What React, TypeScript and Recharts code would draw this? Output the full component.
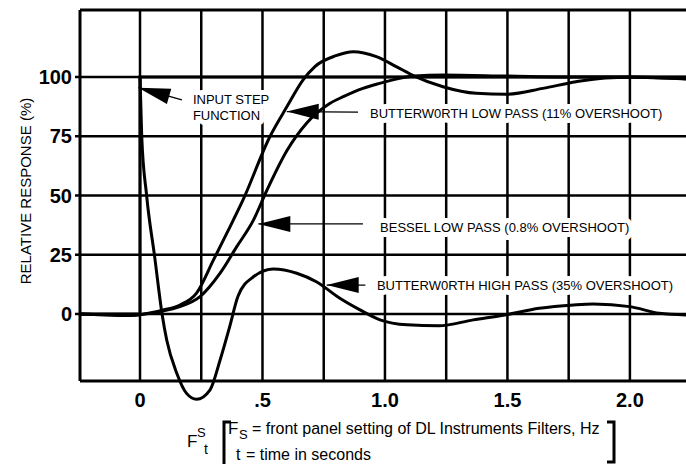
import React from "react"
import { LineChart, Line, XAxis, YAxis, ReferenceLine, ReferenceDot } from "recharts"

// axis layout values (t in F_S * t units, v in %)
const xTicks = [0, 0.5, 1, 1.5, 2]
const xTickLabels = ["0", ".5", "1.0", "1.5", "2.0"]
const yTicks = [0, 25, 50, 75, 100]
const gridT = [0, 0.25, 0.5, 0.75, 1, 1.25, 1.5, 1.75, 2]
const frameT = [-0.245, 2.229]
const frameV = [-28.3, 128.27]

// curves: [t, relative response %]
const inputStep = [[-0.245, 0], [0, 0], [0, 100], [2.229, 100]]

const butterworthLowPass = [
  [-0.245, 0], [-0.15, -0.3], [-0.05, -0.6], [0, -0.3], [0.05, 0.6], [0.095, 1.7], [0.163, 3.8],
  [0.23, 8.7], [0.3, 22.8], [0.354, 34], [0.42, 48], [0.53, 74.8], [0.6, 87.5], [0.665, 98.7],
  [0.714, 104.4], [0.8, 109], [0.87, 110.7], [0.965, 108.6], [1.046, 104.4], [1.12, 100.4],
  [1.237, 95.9], [1.373, 93.1], [1.495, 92.7], [1.645, 95.2], [1.78, 98], [1.9, 99.6],
  [2.0, 99.9], [2.229, 99.2],
]

const besselLowPass = [
  [-0.245, 0], [-0.15, -0.3], [-0.05, -0.6], [0, -0.3], [0.08, 1], [0.163, 3.1], [0.245, 7.3],
  [0.327, 17.2], [0.395, 28.4], [0.463, 39.6], [0.517, 52], [0.6, 69], [0.68, 80.5], [0.776, 88.9],
  [0.83, 91.7], [0.91, 95.2], [0.978, 97.3], [1.05, 99.2], [1.12, 100.4], [1.237, 100.8],
  [1.5, 100.4], [1.78, 100], [2.0, 100], [2.229, 99.3],
]

const butterworthHighPass = [
  [0, 100], [0.007, 75], [0.027, 50], [0.06, 24], [0.09, 0], [0.109, -11], [0.15, -25],
  [0.19, -33.5], [0.231, -36], [0.286, -32], [0.327, -19.4], [0.367, -5], [0.4, 7.5],
  [0.463, 15.7], [0.544, 19], [0.64, 17.2], [0.72, 13.6], [0.816, 6.6], [0.898, 1.7],
  [0.98, -2.5], [1.09, -4.6], [1.22, -5], [1.36, -2.5], [1.49, -0.4], [1.63, 2.4], [1.77, 3.8],
  [1.85, 4.2], [2.0, 3.1], [2.12, 0.3], [2.229, -0.4],
]

// arrow callouts: tip, tail end, text anchor (all in data units)
const callouts = [
  { tip: [-0.007, 95.5], tail: [0.171, 90.3], text: [0.216, 90.3], lines: ["INPUT STEP", "FUNCTION"] },
  { tip: [0.599, 85.4], tail: [0.89, 85.2], text: [0.939, 84.8], lines: ["BUTTERW0RTH LOW PASS (11% OVERSHOOT)"] },
  { tip: [0.483, 38.0], tail: [0.91, 38.0], text: [0.98, 36.3], lines: ["BESSEL LOW PASS (0.8% OVERSHOOT)"] },
  { tip: [0.762, 12.2], tail: [0.92, 12.2], text: [0.967, 12.2], lines: ["BUTTERW0RTH HIGH PASS (35% OVERSHOOT)"] },
]

const toPoints = (rows: number[][]) => rows.map(([t, v]) => ({ t, v }))

const FONT = "'Liberation Sans', Arial, Helvetica, sans-serif"

const XTick = ({ x, y, payload }: any) => (
  <text x={x} y={y - 7} textAnchor="middle" fontSize={20} fontWeight="bold" fontFamily={FONT} fill="#000">
    {xTickLabels[xTicks.indexOf(payload.value)]}
  </text>
)

const gridShape = (w: number) => (p: any) => (
  <line x1={p.x1} y1={p.y1} x2={p.x2} y2={p.y2} stroke="#000" strokeWidth={w} />
)

const arrowShape = (p: any) => {
  const { x1, y1, x2, y2 } = p
  const dx = x2 - x1
  const dy = y2 - y1
  const len = Math.hypot(dx, dy) || 1
  const ux = dx / len
  const uy = dy / len
  const L = 32
  const W = 8
  const bx = x1 + ux * L
  const by = y1 + uy * L
  const pts = `${x1},${y1} ${bx - uy * W},${by + ux * W} ${bx + uy * W},${by - ux * W}`
  return (
    <g>
      <line x1={x1} y1={y1} x2={x2} y2={y2} stroke="#000" strokeWidth={1.3} />
      <polygon points={pts} fill="#000" />
    </g>
  )
}

const textShape = (lines: string[]) => (p: any) => (
  <g>
    {lines.map((s, i) => (
      <text
        key={i}
        x={p.cx}
        y={p.cy + i * 16}
        dominantBaseline="central"
        fontSize={13}
        fontFamily={FONT}
        fill="#000"
        stroke="#fff"
        strokeWidth={10}
        strokeLinejoin="round"
        paintOrder="stroke"
      >
        {s}
      </text>
    ))}
  </g>
)

export default function App() {
  return (
    <div style={{ position: "absolute", left: 0, top: 0, width: 686, height: 464, background: "#fff" }}>
      <LineChart width={686} height={464} margin={{ top: 10, right: 0, bottom: 20.5, left: 0 }}>
        <XAxis
          dataKey="t"
          type="number"
          domain={[frameT[0], frameT[1]]}
          ticks={xTicks}
          tickLine={false}
          axisLine={false}
          tickSize={0}
          tickMargin={0}
          height={30}
          tick={<XTick />}
        />
        <YAxis
          type="number"
          domain={[-42, frameV[1]]}
          ticks={yTicks}
          width={80}
          axisLine={false}
          tickLine={{ stroke: "#000", strokeWidth: 2.5 }}
          tickSize={5}
          tickMargin={3}
          tick={{ fontSize: 20, fontWeight: "bold", fill: "#000", fontFamily: FONT }}
        />

        {yTicks.map((v) => (
          <ReferenceLine
            key={`h${v}`}
            segment={[{ x: frameT[0], y: v }, { x: frameT[1], y: v }]}
            shape={gridShape(2.5)}
          />
        ))}
        {gridT.map((t) => (
          <ReferenceLine
            key={`v${t}`}
            segment={[{ x: t, y: frameV[0] }, { x: t, y: frameV[1] }]}
            shape={gridShape(2.5)}
          />
        ))}
        {frameV.map((v) => (
          <ReferenceLine
            key={`fh${v}`}
            segment={[{ x: frameT[0], y: v }, { x: frameT[1], y: v }]}
            shape={gridShape(3)}
          />
        ))}
        <ReferenceLine
          segment={[{ x: frameT[0], y: frameV[0] }, { x: frameT[0], y: frameV[1] }]}
          shape={gridShape(3)}
        />

        <Line data={toPoints(inputStep)} dataKey="v" type="linear" stroke="#000" strokeWidth={3} dot={false} isAnimationActive={false} />
        <Line data={toPoints(butterworthLowPass)} dataKey="v" type="monotone" stroke="#000" strokeWidth={3} dot={false} isAnimationActive={false} />
        <Line data={toPoints(besselLowPass)} dataKey="v" type="monotone" stroke="#000" strokeWidth={3} dot={false} isAnimationActive={false} />
        <Line data={toPoints(butterworthHighPass)} dataKey="v" type="monotone" stroke="#000" strokeWidth={3} dot={false} isAnimationActive={false} />

        {callouts.map((c, i) => (
          <ReferenceLine
            key={`a${i}`}
            segment={[{ x: c.tip[0], y: c.tip[1] }, { x: c.tail[0], y: c.tail[1] }]}
            shape={arrowShape}
          />
        ))}
        {callouts.map((c, i) => (
          <ReferenceDot key={`t${i}`} x={c.text[0]} y={c.text[1]} r={0} shape={textShape(c.lines)} />
        ))}
      </LineChart>

      <svg width={686} height={464} style={{ position: "absolute", left: 0, top: 0, pointerEvents: "none" }} fontFamily={FONT}>
        <text transform="translate(25,191) rotate(-90)" textAnchor="middle" dominantBaseline="central" fontSize={15} fill="#000">
          RELATIVE RESPONSE (%)
        </text>

        <text x={187} y={447} fontSize={17} fill="#000">F</text>
        <text x={197} y={437} fontSize={13} fill="#000">S</text>
        <text x={204} y={454} fontSize={14} fill="#000">t</text>

        <path d="M231,422 L224,422 L224,464" fill="none" stroke="#000" strokeWidth={3} />
        <text x={228} y={434} fontSize={17} fill="#000">F</text>
        <text x={239} y={439} fontSize={13} fill="#000">S</text>
        <text x={252} y={434} fontSize={16} fill="#000">= front panel setting of DL Instruments Filters, Hz</text>
        <text x={236} y={460} fontSize={16} fill="#000">t</text>
        <text x={246} y={460} fontSize={16} fill="#000">= time in seconds</text>
        <path d="M607,422 L614,422 L614,462 L607,462" fill="none" stroke="#000" strokeWidth={3} />
      </svg>
    </div>
  )
}
